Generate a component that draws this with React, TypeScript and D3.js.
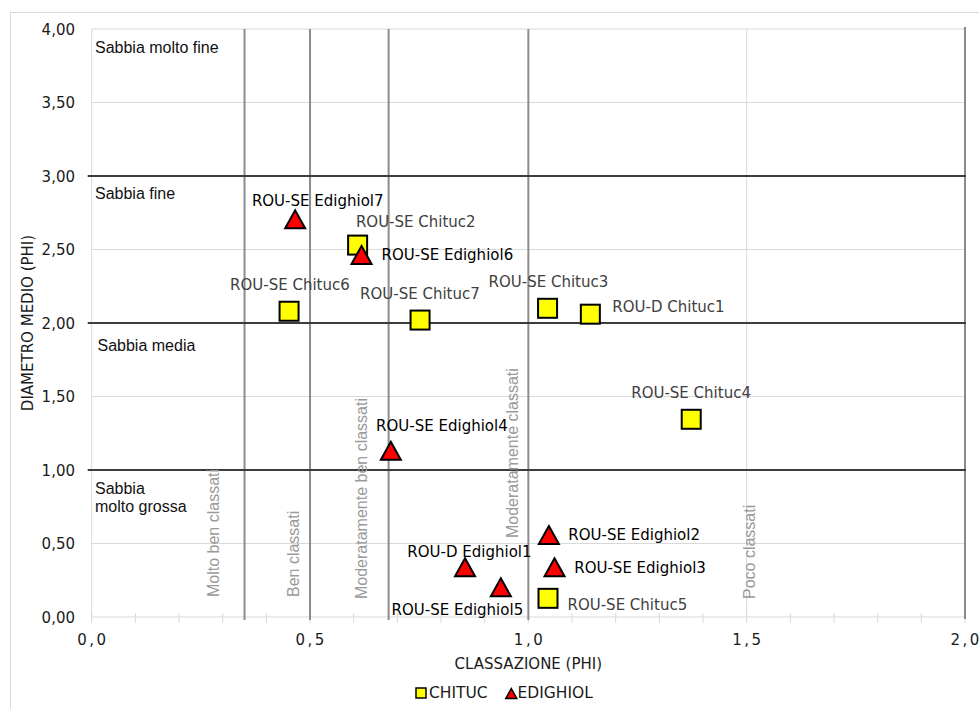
import React from "react";
import * as d3 from "d3";

// ---- data ----
const chitucNames = ["ROU-D Chituc1", "ROU-SE Chituc2", "ROU-SE Chituc3", "ROU-SE Chituc4", "ROU-SE Chituc5", "ROU-SE Chituc6", "ROU-SE Chituc7"];
const chitucSorting = [1.142, 0.609, 1.044, 1.373, 1.045, 0.452, 0.752];
const chitucMean = [2.06, 2.53, 2.10, 1.345, 0.127, 2.08, 2.02];

const edighiolNames = ["ROU-D Edighiol1", "ROU-SE Edighiol2", "ROU-SE Edighiol3", "ROU-SE Edighiol4", "ROU-SE Edighiol5", "ROU-SE Edighiol6", "ROU-SE Edighiol7"];
const edighiolSorting = [0.855, 1.047, 1.06, 0.685, 0.937, 0.618, 0.466];
const edighiolMean = [0.338, 0.558, 0.338, 1.131, 0.202, 2.463, 2.705];

const sortingThresholds = [0.35, 0.5, 0.68, 1.0];
const grainThresholds = [1, 2, 3];
const yTicks = [0, 0.5, 1, 1.5, 2, 2.5, 3, 3.5, 4];
const xTicks = [0, 0.5, 1, 1.5, 2];
const xMinorTicks = d3.range(0, 2.0001, 0.1);

const sortingClassLabels = ["Molto ben classati", "Ben classati", "Moderatamente ben classati", "Moderatamente classati", "Poco classati"];
const sortingClassAnchors = [0.35, 0.5, 0.68, 1.0, 1.5];
const grainClassLabels = [["Sabbia molto fine"], ["Sabbia fine"], ["Sabbia media"], ["Sabbia", "molto grossa"]];
const grainClassAnchors = [4, 3, 2, 1];

// ---- styles / label placement (px offsets from marker centre: left x, baseline y) ----
const chitucLabelOffsets: [number, number][] = [[22, -2.6], [-1.7, -18.3], [-59, -21.6], [-60, -21], [19.5, 11.7], [-59, -21.7], [-60, -20.7]];
const edighiolLabelOffsets: [number, number][] = [[-57.7, -10], [19.5, 5], [19.7, 5.4], [-14.7, -20], [-109.3, 27.7], [20, 5], [-43.3, -13.3]];
const sortingLabelDx = [-26, -11, -22, -10, 8];
const sortingLabelBottom = [20, 20, 18, 79, 18];
const grainLabelDy = [24, 23, 27.7, 24];

const W = 979;
const H = 709;
const plot = { left: 91.7, right: 965, top: 29, bottom: 617 };

const tahoma = "'DejaVu Sans', Verdana, sans-serif";
const arial = "'Liberation Sans', Arial, sans-serif";

export default function App() {
  const x = d3.scaleLinear().domain([0, 2]).range([plot.left, plot.right]);
  const y = d3.scaleLinear().domain([0, 4]).range([plot.bottom, plot.top]);
  const fmtY = (v: number) => v.toFixed(2).replace(".", ",");
  const fmtX = (v: number) => v.toFixed(1).replace(".", ",");
  const tri = (s: number) => `M0,${-s * 0.9}L${s},${s * 0.9}L${-s},${s * 0.9}Z`;

  return (
    <svg width={W} height={H} style={{ position: "absolute", left: 0, top: 0, background: "#fff" }}>
      <rect x={10.5} y={12.5} width={W} height={H} fill="#fff" stroke="#d9d9d9" strokeWidth={1} />

      {/* light gridlines */}
      {yTicks.filter((v) => !grainThresholds.includes(v)).map((v) => (
        <line key={"gy" + v} x1={plot.left} x2={plot.right} y1={y(v)} y2={y(v)} stroke="#d9d9d9" strokeWidth={1} />
      ))}
      {[0, 1.5].map((v) => (
        <line key={"gx" + v} x1={x(v)} x2={x(v)} y1={plot.top} y2={plot.bottom} stroke="#d9d9d9" strokeWidth={1} />
      ))}
      {xMinorTicks.map((v) => (
        <line key={"mt" + v} x1={x(v)} x2={x(v)} y1={plot.bottom - 4} y2={plot.bottom + 6} stroke="#d9d9d9" strokeWidth={1} />
      ))}

      {/* right border at 2.0 */}
      <line x1={x(2)} x2={x(2)} y1={plot.top - 2} y2={plot.bottom + 2} stroke="#8a8a8a" strokeWidth={2} />

      {/* sorting thresholds */}
      {sortingThresholds.map((v) => (
        <line key={"st" + v} x1={x(v)} x2={x(v)} y1={plot.top} y2={plot.bottom + 3} stroke="#8c8c8c" strokeWidth={2} />
      ))}
      {/* grain size thresholds */}
      {grainThresholds.map((v) => (
        <line key={"gt" + v} x1={plot.left - 4} x2={plot.right + 1} y1={y(v)} y2={y(v)} stroke="#3c3c3c" strokeWidth={2} />
      ))}

      {/* y ticks */}
      {yTicks.map((v) => (
        <text key={"yl" + v} x={75} y={y(v) + 5.5} textAnchor="end" fontFamily={tahoma} fontSize={15} fill="#1a1a1a">
          {fmtY(v)}
        </text>
      ))}
      {/* x ticks */}
      {xTicks.map((v) => (
        <text key={"xl" + v} x={x(v) + 1.2} y={645} textAnchor="middle" fontFamily={tahoma} fontSize={15} letterSpacing={2.5} fill="#1a1a1a">
          {fmtX(v)}
        </text>
      ))}

      {/* axis titles */}
      <text transform={`translate(33,${(plot.top + plot.bottom) / 2}) rotate(-90)`} textAnchor="middle" fontFamily={tahoma} fontSize={15} fill="#1a1a1a">
        DIAMETRO MEDIO (PHI)
      </text>
      <text x={(plot.left + plot.right) / 2} y={669} textAnchor="middle" fontFamily={tahoma} fontSize={15} fill="#1a1a1a">
        CLASSAZIONE (PHI)
      </text>

      {/* grain class labels */}
      {grainClassLabels.map((lines, i) => (
        <text key={"gc" + i} x={i === 2 ? 97.5 : 95} y={y(grainClassAnchors[i]) + grainLabelDy[i]} fontFamily={arial} fontSize={16} fill="#111">
          {lines.map((l, j) => (
            <tspan key={j} x={i === 2 ? 97.5 : 95} dy={j === 0 ? 0 : 17.5}>
              {l}
            </tspan>
          ))}
        </text>
      ))}

      {/* sorting class labels */}
      {sortingClassLabels.map((l, i) => (
        <text
          key={"sc" + i}
          transform={`translate(${x(sortingClassAnchors[i]) + sortingLabelDx[i]},${plot.bottom - sortingLabelBottom[i]}) rotate(-90)`}
          fontFamily={arial}
          fontSize={16}
          fill="#9a9a9a"
        >
          {l}
        </text>
      ))}

      {/* CHITUC squares */}
      {chitucSorting.map((v, i) => (
        <rect key={"cs" + i} x={x(v) - 9.5} y={y(chitucMean[i]) - 9.5} width={19} height={19} fill="#ffff00" stroke="#000" strokeWidth={2} />
      ))}
      {/* EDIGHIOL triangles */}
      {edighiolSorting.map((v, i) => (
        <path key={"et" + i} d={tri(10)} transform={`translate(${x(v)},${y(edighiolMean[i])})`} fill="#ff0000" stroke="#000" strokeWidth={2} strokeLinejoin="miter" />
      ))}

      {/* data labels */}
      {chitucSorting.map((v, i) => (
        <text key={"cl" + i} x={x(v) + chitucLabelOffsets[i][0]} y={y(chitucMean[i]) + chitucLabelOffsets[i][1]} fontFamily={tahoma} fontSize={15} fill="#404040">
          {chitucNames[i]}
        </text>
      ))}
      {edighiolSorting.map((v, i) => (
        <text key={"el" + i} x={x(v) + edighiolLabelOffsets[i][0]} y={y(edighiolMean[i]) + edighiolLabelOffsets[i][1]} fontFamily={tahoma} fontSize={15} fill="#000">
          {edighiolNames[i]}
        </text>
      ))}

      {/* legend */}
      <rect x={416} y={688} width={10} height={10} fill="#ffff00" stroke="#000" strokeWidth={1.5} />
      <text x={429} y={698.3} fontFamily={tahoma} fontSize={15.5} fill="#1a1a1a">CHITUC</text>
      <path d={tri(5.5)} transform="translate(511.3,693.5)" fill="#ff0000" stroke="#000" strokeWidth={1.5} />
      <text x={517.5} y={698.3} fontFamily={tahoma} fontSize={15.5} fill="#1a1a1a">EDIGHIOL</text>
    </svg>
  );
}
